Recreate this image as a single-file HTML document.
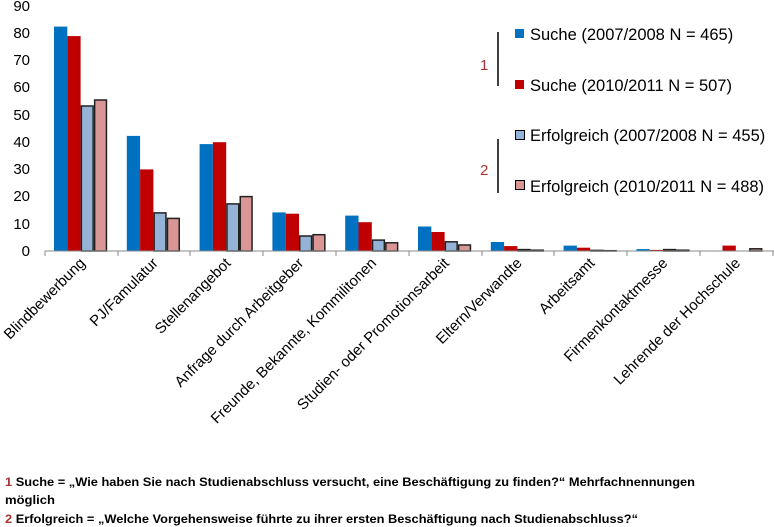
<!DOCTYPE html><html><head><style>body{margin:0;background:#fff}svg{display:block;font-family:"Liberation Sans",sans-serif}</style></head><body>
<svg width="774" height="527" viewBox="0 0 774 527">
<g font-size="15" fill="#000" text-anchor="end">
<text x="30" y="11">90</text><text x="30" y="38">80</text><text x="30" y="65">70</text><text x="30" y="92">60</text><text x="30" y="120">50</text><text x="30" y="147">40</text><text x="30" y="174">30</text><text x="30" y="201">20</text><text x="30" y="229">10</text><text x="30" y="256">0</text>
</g>
<g>
<rect x="54" y="26.6" width="13.3" height="224.4" fill="#0070c0"/><rect x="67.3" y="36.1" width="13.3" height="214.9" fill="#c00000"/>
<rect x="81.35" y="106" width="11.8" height="145" fill="#95b3d7" stroke="#222" stroke-width="1.5"/><rect x="94.65" y="100" width="11.8" height="151" fill="#d99694" stroke="#222" stroke-width="1.5"/>

<rect x="126.8" y="135.9" width="13.3" height="115.1" fill="#0070c0"/><rect x="140.1" y="169.4" width="13.3" height="81.6" fill="#c00000"/>
<rect x="154.15" y="212.9" width="11.8" height="38.1" fill="#95b3d7" stroke="#222" stroke-width="1.5"/><rect x="167.45" y="218.4" width="11.8" height="32.6" fill="#d99694" stroke="#222" stroke-width="1.5"/>

<rect x="199.6" y="144.1" width="13.3" height="106.9" fill="#0070c0"/><rect x="212.9" y="142.2" width="13.3" height="108.8" fill="#c00000"/>
<rect x="226.95" y="203.9" width="11.8" height="47.1" fill="#95b3d7" stroke="#222" stroke-width="1.5"/><rect x="240.25" y="196.6" width="11.8" height="54.4" fill="#d99694" stroke="#222" stroke-width="1.5"/>

<rect x="272.4" y="212.4" width="13.3" height="38.6" fill="#0070c0"/><rect x="285.7" y="213.7" width="13.3" height="37.3" fill="#c00000"/>
<rect x="299.75" y="236" width="11.8" height="15" fill="#95b3d7" stroke="#222" stroke-width="1.5"/><rect x="313.05" y="234.7" width="11.8" height="16.3" fill="#d99694" stroke="#222" stroke-width="1.5"/>

<rect x="345.2" y="215.6" width="13.3" height="35.4" fill="#0070c0"/><rect x="358.5" y="222.2" width="13.3" height="28.8" fill="#c00000"/>
<rect x="372.55" y="240.1" width="11.8" height="10.9" fill="#95b3d7" stroke="#222" stroke-width="1.5"/><rect x="385.85" y="242.8" width="11.8" height="8.2" fill="#d99694" stroke="#222" stroke-width="1.5"/>

<rect x="418" y="226.5" width="13.3" height="24.5" fill="#0070c0"/><rect x="431.3" y="232" width="13.3" height="19" fill="#c00000"/>
<rect x="445.35" y="241.8" width="11.8" height="9.2" fill="#95b3d7" stroke="#222" stroke-width="1.5"/><rect x="458.65" y="245" width="11.8" height="6" fill="#d99694" stroke="#222" stroke-width="1.5"/>

<rect x="490.8" y="242" width="13.3" height="9" fill="#0070c0"/><rect x="504.1" y="246.1" width="13.3" height="4.9" fill="#c00000"/>
<rect x="518.15" y="249.6" width="11.8" height="1.4" fill="#95b3d7" stroke="#222" stroke-width="1.5"/><rect x="531.45" y="250.2" width="11.8" height="0.8" fill="#d99694" stroke="#222" stroke-width="1.5"/>

<rect x="563.6" y="245.6" width="13.3" height="5.4" fill="#0070c0"/><rect x="576.9" y="247.7" width="13.3" height="3.3" fill="#c00000"/>
<rect x="590.95" y="250.4" width="11.8" height="0.6" fill="#95b3d7" stroke="#222" stroke-width="1.5"/><rect x="604.25" y="250.7" width="11.8" height="0.3" fill="#d99694" stroke="#222" stroke-width="1.5"/>

<rect x="636.4" y="249.1" width="13.3" height="1.9" fill="#0070c0"/><rect x="649.7" y="249.9" width="13.3" height="1.1" fill="#c00000"/>
<rect x="663.75" y="249.6" width="11.8" height="1.4" fill="#95b3d7" stroke="#222" stroke-width="1.5"/><rect x="677.05" y="250.2" width="11.8" height="0.8" fill="#d99694" stroke="#222" stroke-width="1.5"/>

<rect x="722.5" y="245.6" width="13.3" height="5.4" fill="#c00000"/>
<rect x="749.85" y="248.8" width="11.8" height="2.2" fill="#d99694" stroke="#222" stroke-width="1.5"/>
</g>
<line x1="45" y1="251" x2="774" y2="251" stroke="#888"/>
<g stroke="#888"><line x1="45" y1="251" x2="45" y2="256"/><line x1="118" y1="251" x2="118" y2="256"/><line x1="190" y1="251" x2="190" y2="256"/><line x1="263" y1="251" x2="263" y2="256"/><line x1="336" y1="251" x2="336" y2="256"/><line x1="409" y1="251" x2="409" y2="256"/><line x1="482" y1="251" x2="482" y2="256"/><line x1="554" y1="251" x2="554" y2="256"/><line x1="627" y1="251" x2="627" y2="256"/><line x1="700" y1="251" x2="700" y2="256"/><line x1="773" y1="251" x2="773" y2="256"/></g>
<g font-size="15" text-anchor="end">
<text transform="translate(86,264) rotate(-45)">Blindbewerbung</text>
<text transform="translate(158.8,264) rotate(-45)">PJ/Famulatur</text>
<text transform="translate(231.6,264) rotate(-45)">Stellenangebot</text>
<text transform="translate(304.4,264) rotate(-45)">Anfrage durch Arbeitgeber</text>
<text transform="translate(377.2,264) rotate(-45)">Freunde, Bekannte, Kommilitonen</text>
<text transform="translate(450,264) rotate(-45)">Studien- oder Promotionsarbeit</text>
<text transform="translate(522.8,264) rotate(-45)">Eltern/Verwandte</text>
<text transform="translate(595.6,264) rotate(-45)">Arbeitsamt</text>
<text transform="translate(668.4,264) rotate(-45)">Firmenkontaktmesse</text>
<text transform="translate(741.2,264) rotate(-45)">Lehrende der Hochschule</text>
</g>
<g font-size="16.5">
<rect x="515" y="29" width="9" height="9" fill="#0070c0"/><text x="530" y="40">Suche (2007/2008 N = 465)</text>
<rect x="515" y="80" width="9" height="9" fill="#c00000"/><text x="530" y="91">Suche (2010/2011 N = 507)</text>
<rect x="515.5" y="130.5" width="9" height="9" fill="#95b3d7" stroke="#000"/><text x="530" y="141">Erfolgreich (2007/2008 N = 455)</text>
<rect x="515.5" y="180.5" width="9" height="9" fill="#d99694" stroke="#000"/><text x="530" y="192">Erfolgreich (2010/2011 N = 488)</text>
<line x1="498" y1="32" x2="498" y2="86" stroke="#000" stroke-width="1.5"/><line x1="498" y1="139" x2="498" y2="193" stroke="#000" stroke-width="1.5"/>
<text x="480" y="70" fill="#a33" font-size="15">1</text><text x="480" y="175" fill="#a33" font-size="15">2</text>
</g>
<g font-size="12" font-weight="bold">
<text x="5" y="486" textLength="690" lengthAdjust="spacingAndGlyphs"><tspan fill="#a33">1</tspan> Suche = „Wie haben Sie nach Studienabschluss versucht, eine Beschäftigung zu finden?“ Mehrfachnennungen</text>
<text x="5" y="504" textLength="50" lengthAdjust="spacingAndGlyphs">möglich</text>
<text x="5" y="523" textLength="633" lengthAdjust="spacingAndGlyphs"><tspan fill="#a33">2</tspan> Erfolgreich = „Welche Vorgehensweise führte zu ihrer ersten Beschäftigung nach Studienabschluss?“</text>
</g>
</svg></body></html>
